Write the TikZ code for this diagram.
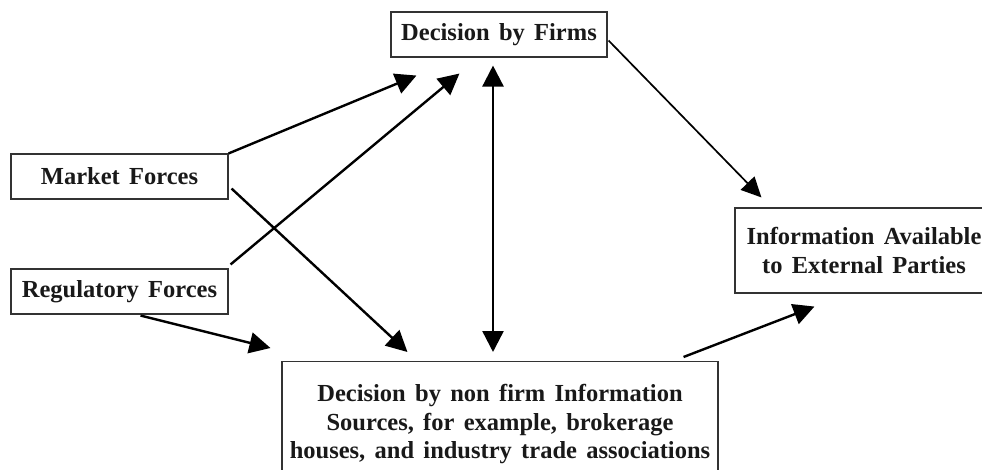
\documentclass[tikz,border=0pt]{standalone}
\usepackage{fontspec}
\setmainfont{Liberation Serif}
\usetikzlibrary{arrows.meta,calc}
\begin{document}
\begin{tikzpicture}[x=1pt,y=-1pt,
  box/.style={draw=black!80,line width=1.1pt,inner sep=0pt,align=center,text=black!90,
    font={\fontsize{24.5}{28.5}\selectfont\bfseries\spaceskip=0.38em\relax}},
  tip/.style={Triangle[length=21pt,width=21pt]},
  arr/.style={line width=2.4pt,-{Triangle[length=21pt,width=21pt]}},
  darr/.style={line width=2.4pt,{Triangle[length=21pt,width=21pt]}-{Triangle[length=21pt,width=21pt]}},
  tarr/.style={line width=1.7pt,-{Triangle[length=20pt,width=19pt]}}]
\useasboundingbox (0,0) rectangle (982,470);
\node[box,minimum width=216pt,minimum height=45pt] (firms) at (499,34.5) {Decision by Firms};
\node[box,minimum width=217pt,minimum height=45pt] (market) at (119.5,176.5) {Market Forces};
\node[box,minimum width=217pt,minimum height=45pt] (reg) at (119.5,291.5) {Regulatory Forces};
\node[box,minimum width=258pt,minimum height=85pt] (info) at (864,250.5) {Information Available\\to External Parties};
\node[box,minimum width=436pt,inner ysep=23pt,anchor=north] (nonfirm) at (500,361)
  {Decision by non firm Information\\Sources, for example, brokerage\\houses, and industry trade associations};
\draw[arr] (market.north east) -- ($(firms.south west)+(26,18)$);
\draw[arr] ($(reg.north east)+(2,-4)$) -- ($(firms.south west)+(69,16)$);
\draw[arr] ($(market.south east)+(3,-11)$) -- ($(nonfirm.north west)+(126,-9)$);
\draw[darr] ($(firms.south)+(-6,8)$) -- ($(nonfirm.north)+(-7,-9)$);
\draw[arr] ($(reg.south)+(21,1)$) -- ($(nonfirm.north west)+(-11,-13)$);
\draw[arr] ($(nonfirm.north east)+(-35,-4)$) -- ($(info.south west)+(80,13)$);
\draw[tarr] ($(firms.east)+(1,6)$) -- ($(info.north west)+(27,-10)$);
\end{tikzpicture}
\end{document}
